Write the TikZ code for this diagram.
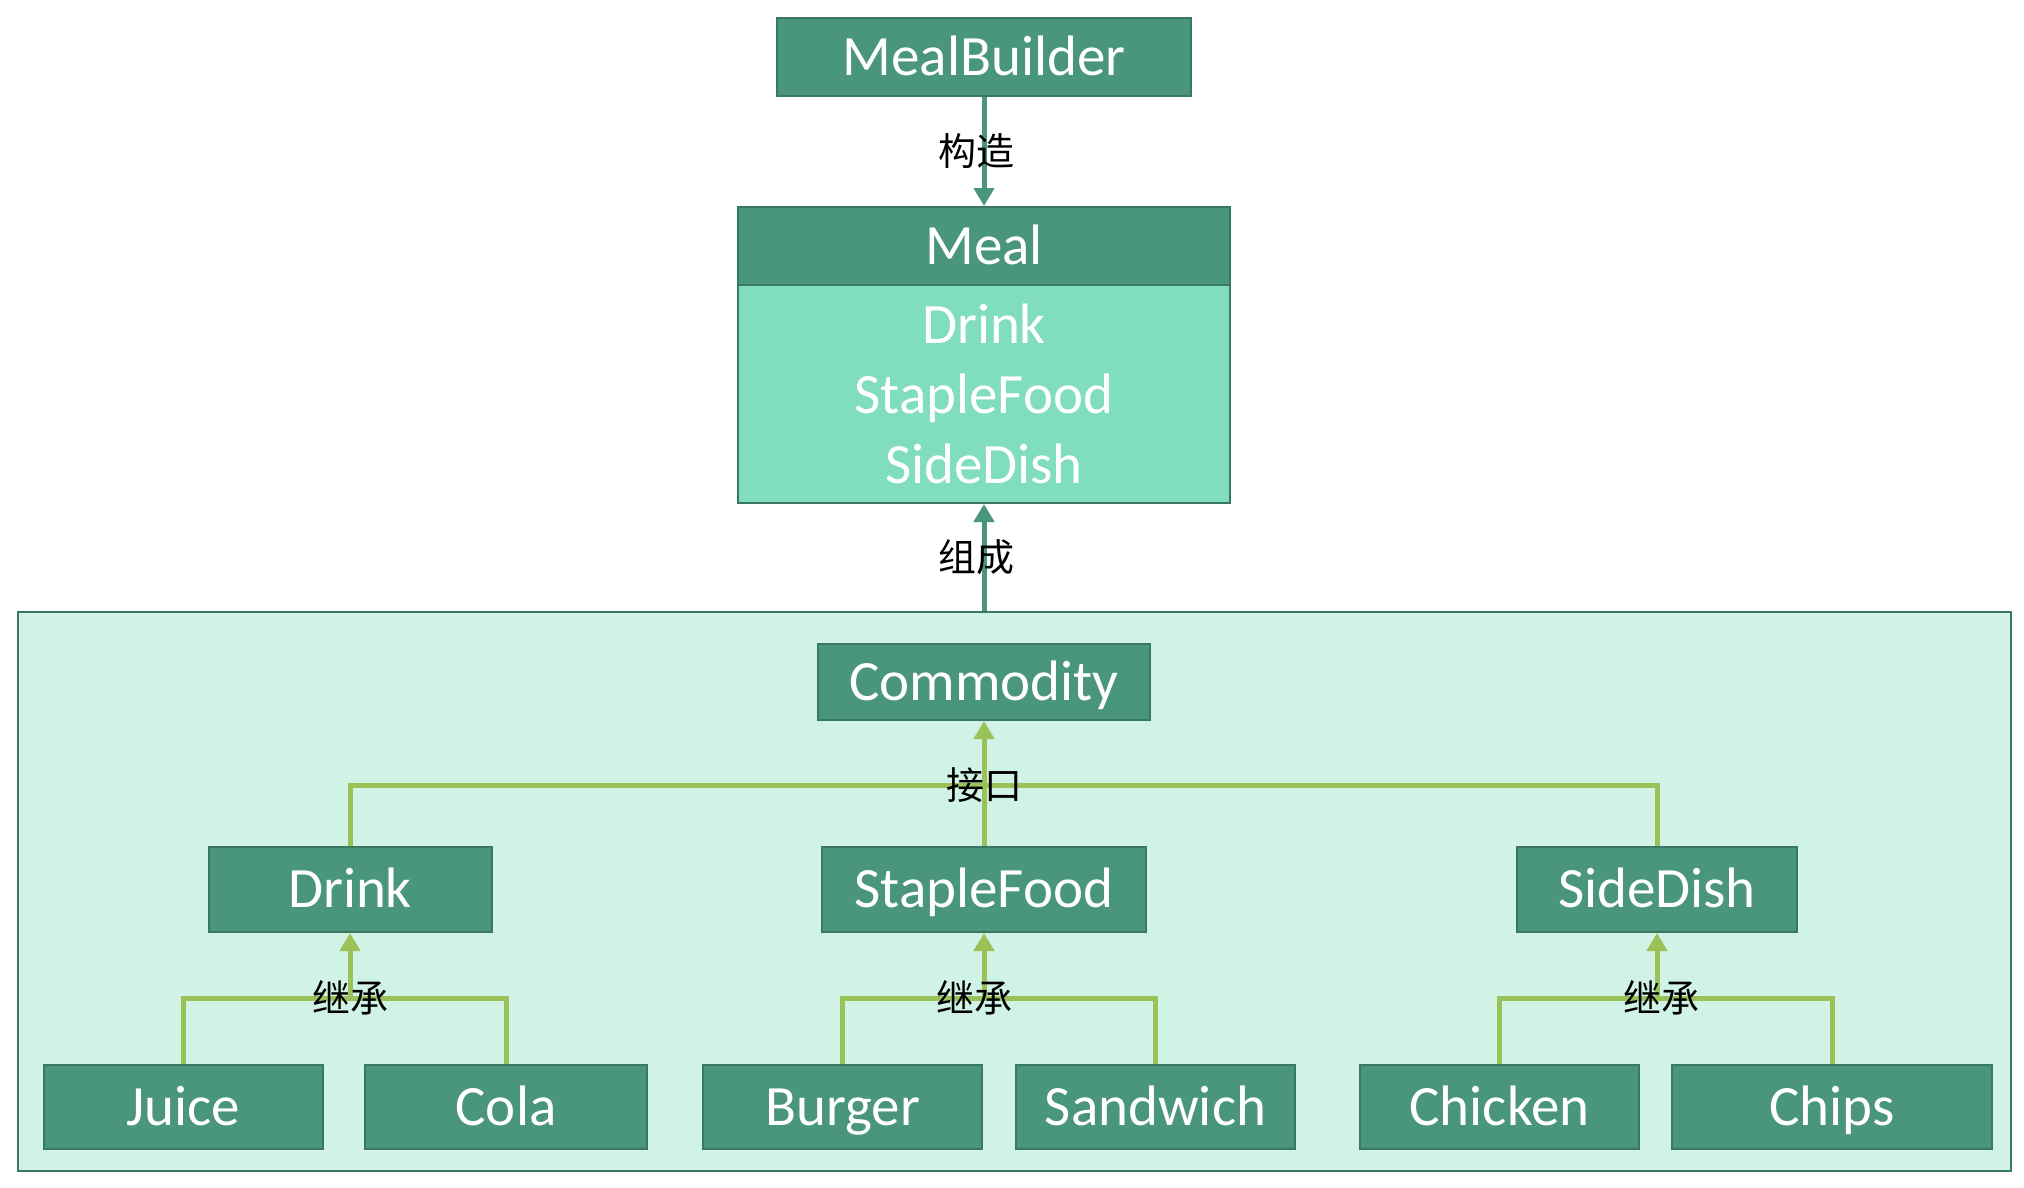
\documentclass[tikz,border=0pt]{standalone}
\usepackage{fontspec}
\setmainfont{Carlito}
\newfontfamily\cjk{Noto Sans CJK SC}
\usetikzlibrary{positioning, arrows.meta}
\definecolor{boxgreen}{HTML}{4A967A}
\definecolor{boxedge}{HTML}{3B7862}
\definecolor{bodygreen}{HTML}{80DDBD}
\definecolor{groupgreen}{HTML}{D1F3E6}
\definecolor{linegreen}{HTML}{9BC259}

\begin{document}
\begin{tikzpicture}[
    x=0.5pt, y=-0.5pt,
    box/.style={draw=boxedge, line width=1pt, fill=boxgreen, text=white, font=\fontsize{28.5}{35}\selectfont, inner sep=0pt},
    cls/.style={box, text height=20pt, text depth=1.6pt},
    group/.style={draw=boxedge, line width=1pt, fill=groupgreen, inner sep=0pt},
    lbl/.style={font=\cjk\fontsize{19}{22}\selectfont, text=black, inner sep=0pt},
    darrow/.style={draw=boxgreen, line width=2.5pt, -{Triangle[length=9pt, width=10pt]}},
    gline/.style={draw=linegreen, line width=2.5pt},
    garrow/.style={gline, -{Triangle[length=9pt, width=10pt]}}
]
\useasboundingbox (0,0) rectangle (2024,1188);
% builder and meal
\node[cls, minimum width=207pt, minimum height=39pt] (builder) at (984,57) {MealBuilder};
\node[cls, minimum width=246pt, minimum height=39pt] (mealhead) at (984,246) {Meal};
\node[box, fill=bodygreen, minimum width=246pt, minimum height=109pt, align=center] (mealbody) at (984,394) {Drink\\StapleFood\\SideDish};
% commodity group
\node[group, minimum width=996.5pt, minimum height=279.5pt] (grp) at (1014.5,891.5) {};
\node[cls, minimum width=166pt, minimum height=38pt] (commodity) at (984,682) {Commodity};
% interfaces
\foreach \n/\t/\x/\w in {drink/Drink/350/141.5, staple/StapleFood/984/162, side/SideDish/1657/140}{
  \node[cls, minimum width=\w pt, minimum height=42.5pt] (\n) at (\x,889.5) {\t};}
% products
\foreach \n/\t/\x/\w in {juice/Juice/183.5/139.5, cola/Cola/506/141, burger/Burger/842.5/139.5,
    sandwich/Sandwich/1155.5/139.5, chicken/Chicken/1499.5/139.5, chips/Chips/1832/160}{
  \node[cls, minimum width=\w pt, minimum height=42pt] (\n) at (\x,1107) {\t};}
% joins
\coordinate (ijoin) at (984,785);
\coordinate (djoin) at (350,998);
\coordinate (sjoin) at (984,998);
\coordinate (cjoin) at (1657,998);
% connections
\draw[darrow] (builder) -- node[lbl, xshift=-4pt] {构造} (mealhead);
\draw[darrow] (mealbody.south |- grp.north) -- node[lbl, xshift=-4pt] {组成} (mealbody.south);
\draw[gline] (drink.north) |- (ijoin) -| (side.north);
\draw[garrow] (staple.north) -- (commodity.south);
\node[lbl] at (ijoin) {接口};
\draw[gline] (juice.north) |- (djoin) -| (cola.north);
\draw[gline] (burger.north) |- (sjoin) -| (sandwich.north);
\draw[gline] (chicken.north) |- (cjoin) -| (chips.north);
\foreach \j/\p/\s in {djoin/drink/0, sjoin/staple/-5, cjoin/side/2}{
  \draw[garrow] (\j) -- (\p.south);
  \node[lbl, xshift=\s pt] at (\j) {继承};}
\end{tikzpicture}
\end{document}
